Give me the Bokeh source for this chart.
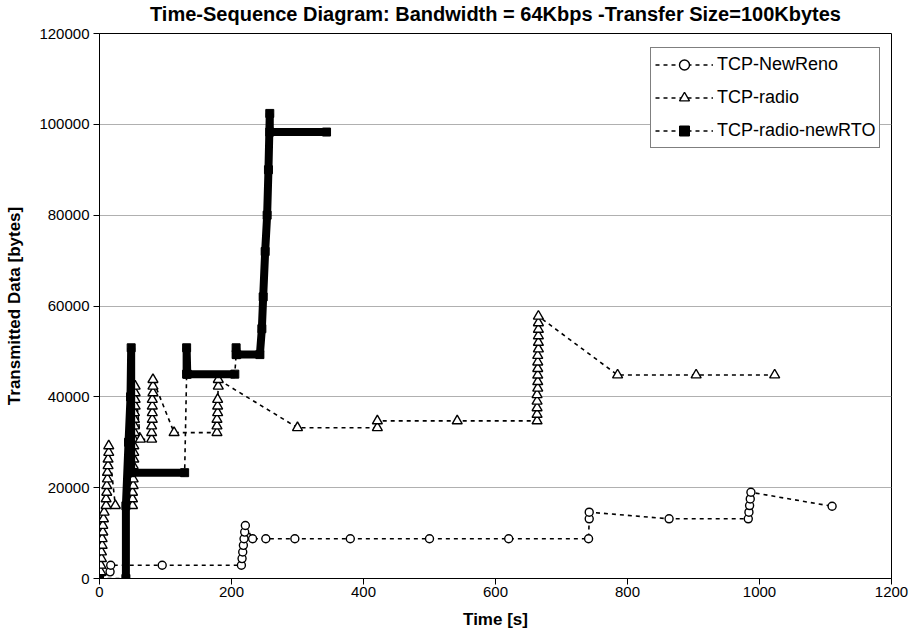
from bokeh.plotting import figure
from bokeh.models import FixedTicker, Legend, LegendItem, NumeralTickFormatter, Title
from bokeh.embed import file_html
from bokeh.resources import INLINE

# ---------------- data ----------------
title_text = "Time-Sequence Diagram: Bandwidth = 64Kbps -Transfer Size=100Kbytes"
x_ticks = [0, 200, 400, 600, 800, 1000, 1200]
y_ticks = [0, 20000, 40000, 60000, 80000, 100000, 120000]

newreno_t = [0, 6, 16, 17, 95, 215, 216, 217, 218, 219, 220, 221, 232, 252, 296,
             380, 500, 620, 741, 742, 742, 863, 983, 984, 985, 986, 987, 1110]
newreno_bytes = [0, 1460, 1460, 2920, 2920, 2920, 4380, 5840, 7300, 8760, 10220, 11680,
                 8760, 8760, 8760, 8760, 8760, 8760, 8760, 13140, 14600, 13140, 13140,
                 14600, 16060, 17520, 18980, 15900]

radio_t = [1, 2, 2, 3, 3, 4, 4, 5, 5, 6, 7,
           10, 10, 11, 11, 12, 12, 13, 13, 14, 14,
           24,
           50, 50, 50, 51, 51, 51, 51, 52, 52, 52, 52, 53, 53, 53, 53, 54, 54, 54, 54,
           62,
           79, 79, 79, 80, 80, 80, 80, 81, 81, 81,
           113,
           178, 178, 178, 179, 179, 179, 180, 180,
           300, 421, 421, 542,
           663, 663, 663, 663, 663, 664, 664, 664, 664, 664, 664, 665, 665, 665, 665, 665, 665,
           785, 904, 1023]
radio_bytes = [0, 1460, 2920, 4380, 5840, 7300, 8760, 10220, 11680, 13140, 14600,
               16060, 17520, 18980, 20440, 21900, 23360, 24820, 26280, 27740, 29200,
               16060,
               16060, 17520, 18980, 20440, 21900, 23360, 24820, 26280, 27740, 29200,
               30660, 32120, 33580, 35040, 36500, 37960, 39420, 40880, 42340,
               30660,
               30660, 32120, 33580, 35040, 36500, 37960, 39420, 40880, 42340, 43800,
               32120,
               32120, 33580, 35040, 36500, 37960, 39420, 42340, 43800,
               33200, 33200, 34700, 34700,
               34700, 36140, 37580, 39020, 40460, 41900, 43340, 44780, 46220, 47660,
               49100, 50540, 51980, 53420, 54860, 56300, 57740,
               44800, 44800, 44800]

newrto_t = [0, 40, 40, 44, 47, 48, 48, 129, 132, 132, 133, 205, 207, 207, 208, 243,
            246, 248, 251, 254, 256, 258, 258, 344]
newrto_bytes = [0, 0, 16000, 30000, 40000, 50800, 23300, 23300, 45000, 50800, 45000, 45000,
                49300, 50800, 49300, 49300, 55000, 62000, 72000, 80000, 90000, 102400,
                98300, 98300]
# indices after which the newRTO trace is a sparse (dotted) jump
newrto_jumps = [0, 7, 11]

FONT = "Liberation Sans"

p = figure(frame_width=792, frame_height=545, x_range=(0, 1200), y_range=(0, 120000),
           output_backend="svg", toolbar_location=None,
           min_border_left=99, min_border_right=20, min_border_top=33, min_border_bottom=58,
           background_fill_color="white", border_fill_color="white")

# small spacer between frame and title, then the title itself
p.add_layout(Title(text=" ", text_font_size="1px", standoff=6), "above")
p.add_layout(Title(text=title_text, align="center", text_font=FONT,
                   text_font_size="20px", text_font_style="bold",
                   text_color="black", standoff=0), "above")

p.outline_line_color = "black"
p.outline_line_width = 1
p.xgrid.visible = False
p.ygrid.grid_line_color = "#b0b0b0"
p.ygrid.grid_line_width = 1

p.xaxis.ticker = FixedTicker(ticks=x_ticks)
p.yaxis.ticker = FixedTicker(ticks=y_ticks)
p.yaxis.formatter = NumeralTickFormatter(format="0")
for ax in (p.xaxis, p.yaxis):
    ax.axis_line_color = "black"
    ax.axis_line_width = 1
    ax.major_tick_line_color = "black"
    ax.major_tick_in = 0
    ax.major_tick_out = 6
    ax.minor_tick_line_color = None
    ax.major_label_text_font = FONT
    ax.major_label_text_font_size = "15px"
    ax.major_label_text_color = "black"
    ax.axis_label_text_font = FONT
    ax.axis_label_text_font_size = "17px"
    ax.axis_label_text_font_style = "bold"
    ax.axis_label_text_color = "black"
p.xaxis.axis_label = "Time [s]"
p.yaxis.axis_label = "Transmitted Data [bytes]"
p.xaxis.major_label_standoff = 2
p.yaxis.major_label_standoff = 4
p.xaxis.axis_label_standoff = 10
p.yaxis.axis_label_standoff = 12

DASH = "4 4"

# TCP-NewReno
nr_line = p.line(newreno_t, newreno_bytes, line_color="black", line_width=1.6, line_dash=DASH)
nr_pts = p.scatter(newreno_t, newreno_bytes, marker="circle", size=8,
                   fill_color="white", line_color="black", line_width=1.4)

# TCP-radio
ra_line = p.line(radio_t, radio_bytes, line_color="black", line_width=1.6, line_dash=DASH)
ra_pts = p.scatter(radio_t, radio_bytes, marker="triangle", size=10,
                   fill_color="white", line_color="black", line_width=1.4)

# TCP-radio-newRTO: dense runs of filled squares drawn as thick strokes
bounds = [-1] + newrto_jumps + [len(newrto_t) - 1]
run_xs, run_ys = [], []
for a, b in zip(bounds[:-1], bounds[1:]):
    seg_t = newrto_t[a + 1:b + 1]
    seg_b = newrto_bytes[a + 1:b + 1]
    if len(seg_t) > 1:
        run_xs.append(seg_t)
        run_ys.append(seg_b)
rto_line = p.line(newrto_t, newrto_bytes, line_color="black", line_width=1.6, line_dash=DASH)
p.multi_line(run_xs, run_ys, line_color="black", line_width=8, line_join="miter")
rto_pts = p.scatter(newrto_t, newrto_bytes, marker="square", size=8,
                    fill_color="black", line_color="black")

legend = Legend(items=[
    LegendItem(label="TCP-NewReno", renderers=[nr_line, nr_pts]),
    LegendItem(label="TCP-radio", renderers=[ra_line, ra_pts]),
    LegendItem(label="TCP-radio-newRTO", renderers=[rto_line, rto_pts]),
], location=(551, 430))
legend.border_line_color = "black"
legend.border_line_width = 1
legend.background_fill_color = "white"
legend.background_fill_alpha = 1
legend.label_text_font = FONT
legend.label_text_font_size = "18px"
legend.label_text_color = "black"
legend.glyph_width = 58
legend.glyph_height = 25
legend.label_height = 25
legend.spacing = 8
legend.padding = 4
legend.margin = 0
legend.label_standoff = 4
p.add_layout(legend)

open("out.html", "w").write(file_html(p, INLINE))
